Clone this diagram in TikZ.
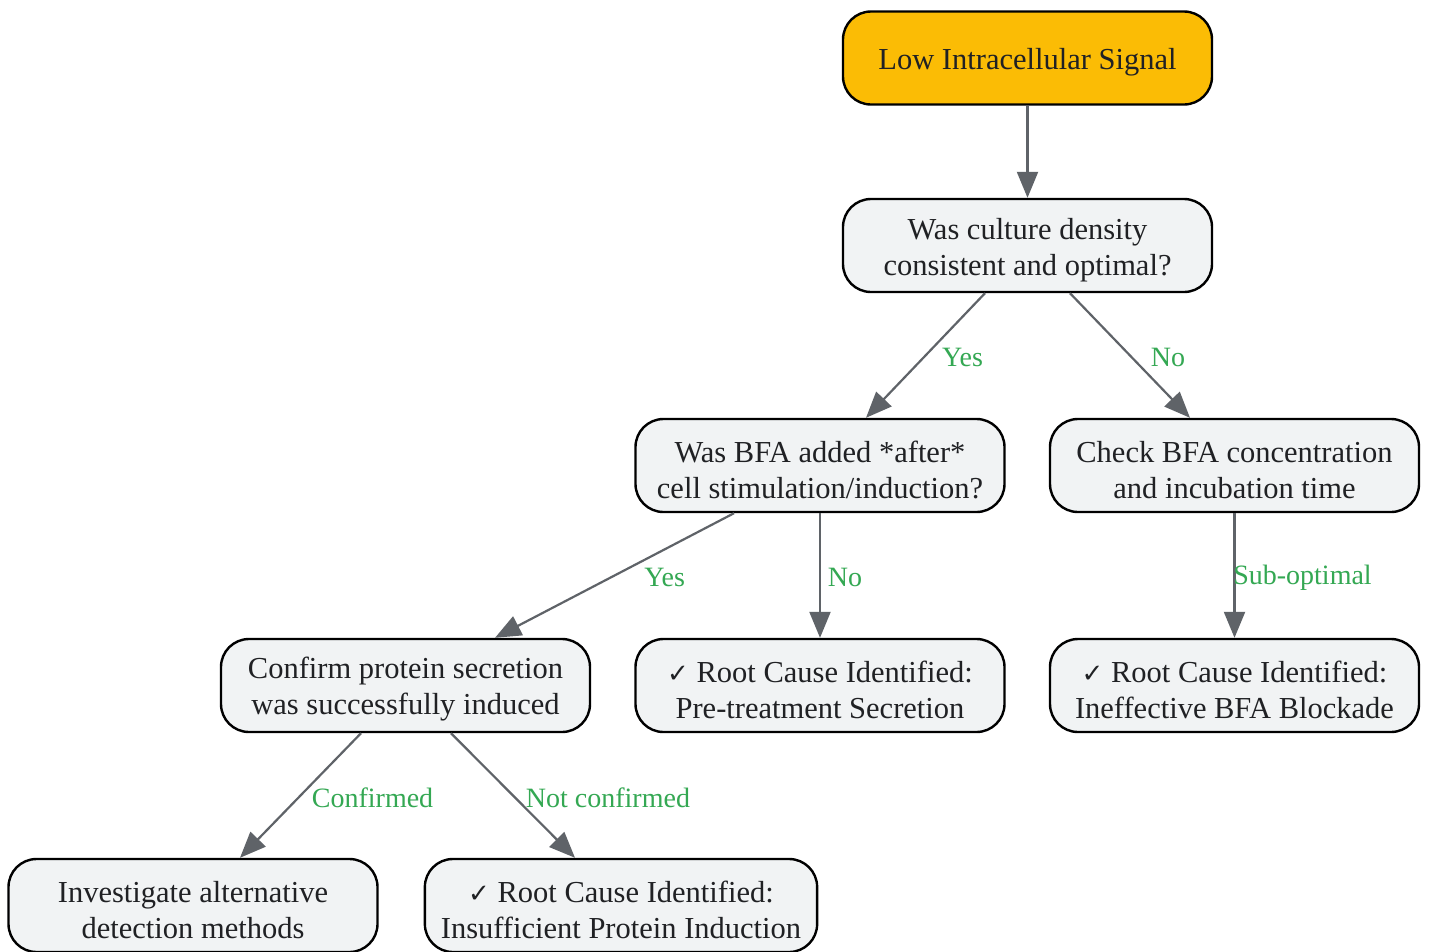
\documentclass[tikz,border=0pt]{standalone}
\usepackage{fontspec}
\setmainfont{Liberation Serif}
\newfontfamily\symfont{DejaVu Sans}
\usetikzlibrary{arrows.meta}
\definecolor{boxgray}{HTML}{F1F3F4}
\definecolor{startyellow}{HTML}{FBBC05}
\definecolor{edgegray}{HTML}{5F6368}
\definecolor{txt}{HTML}{202124}
\definecolor{lblgreen}{HTML}{34A853}
\newcommand{\chk}{{\symfont\fontsize{26}{36}\selectfont ✓}\ }
\newcommand{\tstrut}{\rule{0pt}{29.5pt}}
\begin{document}
\begin{tikzpicture}[x=1pt,y=-1pt,
  box/.style={draw=black, line width=2.4pt, rounded corners=28pt, fill=boxgray,
    minimum width=369pt, minimum height=93pt, inner xsep=16pt, align=center,
    text=txt, font=\fontsize{30.5}{36}\selectfont},
  startbox/.style={box, fill=startyellow},
  conn/.style={draw=edgegray, line width=2.2pt, -{Triangle[length=26pt,width=21pt]}},
  lbl/.style={text=lblgreen, font=\fontsize{28}{33}\selectfont, inner sep=0pt}
]
\fill[white] (0,0) rectangle (1430,951);
\useasboundingbox (0,0) rectangle (1430,951);

\node[startbox] (n1) at (1027.5,58) {\tstrut Low Intracellular Signal};
\node[box] (n2) at (1027.5,245.5) {\tstrut Was culture density\\consistent and optimal?};
\node[box] (n3) at (820,465.5) {\tstrut Was BFA added *after*\\cell stimulation/induction?};
\node[box] (n4) at (1234.5,465.5) {\tstrut Check BFA concentration\\and incubation time};
\node[box] (n5) at (405.5,685.5) {\tstrut Confirm protein secretion\\was successfully induced};
\node[box] (n6) at (820,685.5) {\tstrut\chk Root Cause Identified:\\Pre-treatment Secretion};
\node[box] (n7) at (1234.5,685.5) {\tstrut\chk Root Cause Identified:\\Ineffective BFA Blockade};
\node[box] (n8) at (193,905.5) {\tstrut Investigate alternative\\detection methods};
\node[box] (n9) at (621,905.5) {\tstrut\chk Root Cause Identified:\\Insufficient Protein Induction};

\draw[conn] (n1.south) -- (n2.north);
\draw[conn] ([xshift=-42.5pt]n2.south) -- node[lbl, pos=0.516, xshift=39pt] {Yes} ([xshift=46pt]n3.north);
\draw[conn] ([xshift=42.5pt]n2.south) -- node[lbl, pos=0.516, xshift=36pt] {No} ([xshift=-44.5pt]n4.north);
\draw[conn] ([xshift=-86pt]n3.south) -- node[lbl, pos=0.516, xshift=54pt] {Yes} ([xshift=89.5pt]n5.north);
\draw[conn] (n3.south) -- node[lbl, pos=0.516, xshift=25pt] {No} (n6.north);
\draw[conn] (n4.south) -- node[lbl, pos=0.516, xshift=68pt] {Sub-optimal} (n7.north);
\draw[conn] ([xshift=-44.5pt]n5.south) -- node[lbl, pos=0.516, xshift=74pt] {Confirmed} ([xshift=47pt]n8.north);
\draw[conn] ([xshift=45.5pt]n5.south) -- node[lbl, pos=0.516, xshift=93pt] {Not confirmed} ([xshift=-46pt]n9.north);
\end{tikzpicture}
\end{document}
